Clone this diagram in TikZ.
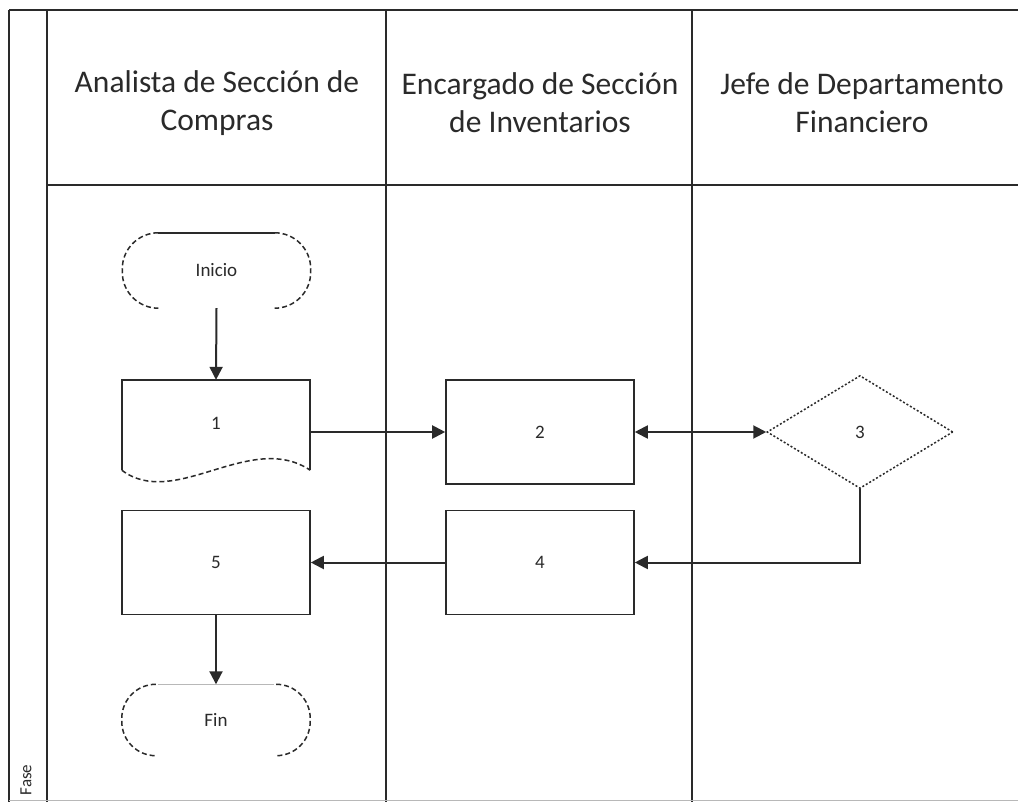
\documentclass[tikz,border=0pt]{standalone}
\usepackage{fontspec}
\setmainfont{Carlito}
\usetikzlibrary{arrows.meta,shapes.geometric}
\definecolor{ink}{HTML}{2A2A2A}
\definecolor{faint}{HTML}{B8B8B8}
\begin{document}
\begin{tikzpicture}[x=1pt,y=-1pt,
  frame/.style={line width=2pt,draw=ink},
  hdr/.style={align=center,text=ink,font=\fontsize{31.5}{38}\selectfont},
  lbl/.style={text=ink,font=\fontsize{19}{22}\selectfont},
  boxshape/.style={draw=ink,line width=1.6pt,minimum width=188pt,minimum height=104pt,inner sep=0pt,lbl},
  hid/.style={draw=none,inner sep=0pt,lbl},
  dsh/.style={draw=ink,line width=1.5pt,dash pattern=on 5pt off 3pt},
  dot/.style={draw=ink,line width=1.5pt,dash pattern=on 2pt off 2pt},
  arr/.style={draw=ink,line width=2pt,-{Triangle[length=13pt,width=13pt]}},
  arrb/.style={draw=ink,line width=2pt,{Triangle[length=13pt,width=13pt]}-{Triangle[length=13pt,width=13pt]}}
]
\useasboundingbox (0,0) rectangle (1018,802);
\fill[white] (0,0) rectangle (1018,802);

% frame
\coordinate (tl) at (9,10);
\coordinate (tr) at (1018,10);
\coordinate (bl) at (9,802);
\coordinate (pt) at (47,10);
\coordinate (pb) at (47,802);
\coordinate (hl) at (47,185);
\coordinate (hr) at (1018,185);
\coordinate (d1t) at (386,10);
\coordinate (d1b) at (386,802);
\coordinate (d2t) at (692,10);
\coordinate (d2b) at (692,802);
\draw[frame] (tl) -- (tr);
\draw[frame] (tl) -- (bl);
\draw[frame] (pt) -- (pb);
\draw[frame] (hl) -- (hr);
\draw[frame] (d1t) -- (d1b);
\draw[frame] (d2t) -- (d2b);
\draw[faint,line width=1pt] (9,800) -- (1018,800);

% headers
\node[hdr] (h1) at (217,103) {Analista de Sección de\\Compras};
\node[hdr] (h2) at (540,103) {Encargado de Sección\\de Inventarios};
\node[hdr] (h3) at (862,103) {Jefe de Departamento\\Financiero};
\node[text=ink,font=\fontsize{17}{19}\selectfont,rotate=90] (fase) at (26,780) {Fase};

% Inicio terminator
\node[hid,minimum width=188pt,minimum height=75pt] (inicio) at (216.5,270.5) {Inicio};
\draw[ink,line width=1.5pt] ([xshift=36]inicio.north west) -- ([xshift=-36]inicio.north east);
\draw[dsh,rounded corners=36pt] ([xshift=36]inicio.north west) -- (inicio.north west) -- (inicio.south west) -- ([xshift=36]inicio.south west);
\draw[dsh,rounded corners=36pt] ([xshift=-36]inicio.north east) -- (inicio.north east) -- (inicio.south east) -- ([xshift=-36]inicio.south east);

% document 1
\node[hid,minimum width=188pt,minimum height=90pt] (d1) at (216,425) {\raisebox{4pt}{1}};
\draw[ink,line width=1.5pt] (d1.south west) -- (d1.north west) -- (d1.north east) -- (d1.south east);
\draw[dsh] (d1.south west) .. controls +(53,40) and +(-60,-40) .. (d1.south east);

% box 2, diamond 3, box 4, box 5
\node[boxshape] (b2) at (540,432) {2};
\node[diamond,dot,minimum width=186pt,minimum height=113pt,aspect=1.65,inner sep=0pt,lbl] (d3) at (860,432) {3};
\node[boxshape] (b4) at (540,562.5) {4};
\node[boxshape] (b5) at (216,562.5) {5};

% Fin terminator
\node[hid,minimum width=188pt,minimum height=71pt] (fin) at (216,720) {Fin};
\draw[faint,line width=1.2pt] ([xshift=36]fin.north west) -- ([xshift=-36]fin.north east);
\draw[dsh,rounded corners=34pt] ([xshift=34]fin.north west) -- (fin.north west) -- (fin.south west) -- ([xshift=34]fin.south west);
\draw[dsh,rounded corners=34pt] ([xshift=-34]fin.north east) -- (fin.north east) -- (fin.south east) -- ([xshift=-34]fin.south east);

% connectors
\draw[arr] (inicio.south) -- (d1.north);
\draw[arr] (d1.east |- b2.west) -- (b2.west);
\draw[arrb] (b2.east) -- (d3.west);
\draw[arr] (d3.south) |- (b4.east);
\draw[arr] (b4.west) -- (b5.east);
\draw[arr] (b5.south) -- (fin.north);
\end{tikzpicture}
\end{document}
